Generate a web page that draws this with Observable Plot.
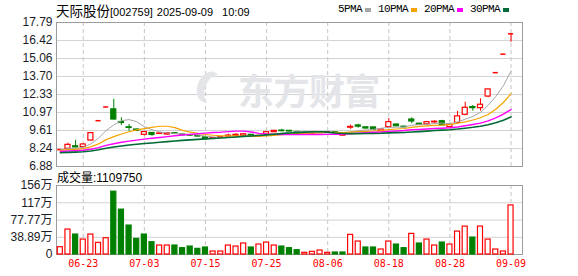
<!DOCTYPE html>
<html><head><meta charset="utf-8">
<script src="https://cdn.jsdelivr.net/npm/d3@7"></script>
<script src="https://cdn.jsdelivr.net/npm/@observablehq/plot@0.6"></script>
<style>
body{margin:0;background:#fff;}
#wrap{position:relative;width:578px;height:276px;overflow:hidden;background:#fff;font-family:"Liberation Sans",Arial,"Noto Sans CJK SC",sans-serif;color:#000;}
.abs{position:absolute;white-space:pre;line-height:1;}
#title{left:56px;top:3px;font-size:11px;line-height:14px;}
#title .cjk{font-family:"Noto Sans CJK SC";font-size:13.5px;}
#legend{left:338px;top:4px;font-family:"Liberation Mono",monospace;font-size:11px;letter-spacing:-0.6px;display:flex;align-items:center;}
#legend .sw{display:inline-block;width:6px;height:4px;margin:0 7px 0 3px;}
#vlabel{left:57px;top:172px;font-size:12px;}
#wm{left:238px;top:71px;font-family:"Noto Sans CJK SC";font-weight:700;font-size:36px;color:#e4e5e9;letter-spacing:-0.5px;}
#logo{left:205px;top:74px;width:22px;height:32px;border-radius:50%;box-shadow:-8px 0 0 0 #e4e5e9;transform:rotate(22deg);}
</style></head><body>
<div id="wrap">
  <div id="price" class="abs" style="left:0;top:0"></div>
  <div id="vol" class="abs" style="left:0;top:170px"></div>
  <div id="logo" class="abs"></div>
  <div id="wm" class="abs"></div>
  <div id="title" class="abs"></div>
  <div id="legend" class="abs"></div>
  <div id="vlabel" class="abs"></div>
</div>
<script>
// ---------- data ----------
const stockName = "天际股份";
const stockCode = "[002759]";
const stampDate = "2025-09-09";
const stampTime = "10:09";
const volumeTitle = "成交量:1109750";
const watermark = "东方财富";
const maNames = ["5PMA", "10PMA", "20PMA", "30PMA"];
const maPeriods = [5, 10, 20, 30];

const dates = ["06-18","06-19","06-20","06-23","06-24","06-25","06-26","06-27","06-30",
  "07-01","07-02","07-03","07-04","07-07","07-08","07-09","07-10","07-11","07-14","07-15",
  "07-16","07-17","07-18","07-21","07-22","07-23","07-24","07-25","07-28","07-29","07-30",
  "07-31","08-01","08-04","08-05","08-06","08-07","08-08","08-11","08-12","08-13","08-14",
  "08-15","08-18","08-19","08-20","08-21","08-22","08-25","08-26","08-27","08-28","08-29",
  "09-01","09-02","09-03","09-04","09-05","09-08","09-09"];

const opens  = [8.14,8.22,8.41,8.35,8.85,10.35,11.39,11.21,10.25,9.85,9.68,9.28,9.42,9.35,9.30,9.40,9.30,9.26,9.20,9.09,
  8.98,9.05,9.15,9.20,9.20,9.28,9.17,9.30,9.48,9.60,9.58,9.50,9.38,9.36,9.42,9.45,9.47,9.22,9.82,9.99,
  9.85,9.84,9.55,9.86,10.06,9.90,10.44,10.12,10.07,10.22,10.31,9.86,10.18,10.80,11.38,11.30,12.18,13.99,15.39,16.93];
const highs  = [8.18,8.65,8.86,8.60,9.41,10.35,11.39,11.97,10.57,10.06,9.72,9.52,9.45,9.42,9.43,9.44,9.33,9.28,9.24,9.10,
  9.05,9.12,9.33,9.36,9.34,9.30,9.22,9.50,9.62,9.70,9.58,9.52,9.44,9.50,9.48,9.50,9.49,9.30,10.02,10.08,
  9.86,9.88,9.70,10.52,10.10,9.93,10.57,10.15,10.30,10.35,10.38,10.08,11.05,11.75,11.50,12.01,12.72,13.99,15.39,16.93];
const lows   = [8.12,8.18,8.28,8.30,8.80,10.35,11.39,10.40,9.99,9.55,9.52,9.20,9.17,9.30,9.27,9.30,9.20,9.18,9.12,8.90,
  8.95,9.02,9.12,9.16,9.18,9.12,9.12,9.28,9.45,9.50,9.50,9.36,9.36,9.30,9.38,9.42,9.36,9.20,9.70,9.78,
  9.70,9.60,9.52,9.80,9.90,9.82,10.12,9.98,10.02,10.15,9.98,9.82,10.10,10.72,11.07,11.07,12.09,13.99,15.39,16.29];
const closes = [8.16,8.52,8.33,8.55,9.41,10.35,11.39,10.44,10.18,9.80,9.58,9.49,9.27,9.38,9.40,9.35,9.24,9.22,9.15,8.95,
  9.03,9.10,9.22,9.28,9.32,9.18,9.20,9.48,9.58,9.56,9.53,9.40,9.42,9.44,9.46,9.48,9.40,9.28,9.88,9.90,
  9.76,9.66,9.68,10.24,9.93,9.85,10.29,10.03,10.24,10.27,10.00,10.05,10.68,11.33,11.30,11.56,12.72,13.99,15.39,16.93];
const volumes = [165000,564000,451000,338000,451000,263000,368000,1420000,1014000,654000,353000,451000,278000,203000,203000,
  203000,143000,180000,128000,158000,68000,68000,203000,180000,248000,158000,225000,270000,203000,180000,
  143000,98000,38000,60000,90000,38000,45000,45000,444000,293000,158000,158000,113000,293000,225000,
  143000,466000,248000,338000,203000,270000,225000,518000,631000,383000,631000,338000,113000,68000,1109750];
// closes before the visible window (estimated), needed for the moving averages
const priorCloses = [7.62,7.66,7.70,7.68,7.72,7.75,7.70,7.74,7.78,7.80,7.84,7.88,7.85,7.90,7.94,7.96,7.92,7.98,8.02,8.05,
  8.00,8.04,8.08,8.06,8.10,8.14,8.18,8.15,8.12];

const priceTickLabels = ["17.79","16.42","15.06","13.70","12.33","10.97","9.61","8.24","6.88"];
const volTickLabels = ["156万","117万","77.77万","38.89万","0"];
const dateTickLabels = ["06-23","07-03","07-15","07-25","08-06","08-18","08-28","09-09"];

// ---------- styles ----------
const RED = "#ff0000", GREEN = "#008000";
const maColors = ["#a6a6a6", "#f5a300", "#ff00ff", "#006b36"];
const maWidths = [1, 1.2, 1.4, 1.6];
const GRID = "#d2d2d2", VGRID = "#c6c6c6", FRAME = "#9c9c9c";
const labelFont = "Liberation Sans, Arial, Noto Sans CJK SC, sans-serif";

// ---------- derived ----------
const N = dates.length;
const idx = d3.range(N);
const rows = idx.map(i => {
  const prev = i ? closes[i - 1] : priorCloses[priorCloses.length - 1];
  const o = opens[i], c = closes[i];
  return {i, o, h: highs[i], l: lows[i], c, v: volumes[i], prev,
    up: c > o || (c === o && c >= prev), volUp: c >= prev};
});
const allCloses = priorCloses.concat(closes);
const maData = maPeriods.map(n => idx.map(i => {
  const k = i + priorCloses.length;
  return {i, v: d3.mean(allCloses.slice(k - n + 1, k + 1))};
}));
const xTicks = dateTickLabels.map(t => dates.indexOf(t));
const priceVals = priceTickLabels.map(Number);
const [pMin, pMax] = d3.extent(priceVals);
const parseVol = s => s.endsWith("万") ? parseFloat(s) * 1e4 : +s;
const volVals = volTickLabels.map(parseVol);
const vMax = d3.max(volVals);
const hw = 0.33;
const xScale = {type: "linear", domain: [-0.5, N + 0.5], axis: null};

// ---------- price panel ----------
const bodies = rows.filter(d => Math.abs(d.c - d.o) >= 0.02);
const flats = rows.filter(d => Math.abs(d.c - d.o) < 0.02);
const price = Plot.plot({
  width: 578, height: 170, marginLeft: 56, marginRight: 56, marginTop: 22, marginBottom: 4,
  x: xScale,
  y: {domain: [pMin, pMax], axis: null},
  color: {type: "identity"},
  style: {background: "transparent", overflow: "visible"},
  marks: [
    Plot.ruleY(priceVals.filter(v => v > pMin && v < pMax), {stroke: GRID}),
    Plot.ruleX(xTicks, {stroke: VGRID, strokeDasharray: "4,3"}),
    Plot.frame({stroke: FRAME}),
    Plot.text(priceVals, {y: d => d, frameAnchor: "left", textAnchor: "end", dx: -4,
      text: (d, i) => priceTickLabels[i], fontFamily: labelFont, fontSize: 12, fill: "#1c1c28"}),
    Plot.ruleX(rows, {x: "i", y1: "l", y2: "h", stroke: d => d.up ? RED : GREEN, strokeWidth: 1}),
    Plot.rect(bodies, {x1: d => d.i - hw, x2: d => d.i + hw, y1: "o", y2: "c",
      fill: d => d.up ? "#ffffff" : GREEN, stroke: d => d.up ? RED : GREEN, strokeWidth: 1.2}),
    Plot.ruleY(flats, {y: "c", x1: d => d.i - hw, x2: d => d.i + hw,
      stroke: d => d.up ? RED : GREEN, strokeWidth: 1.5}),
    ...maData.map((m, k) => Plot.line(m, {x: "i", y: "v", stroke: maColors[k], strokeWidth: maWidths[k]}))
  ]
});
document.getElementById("price").appendChild(price);

// ---------- volume panel ----------
const vol = Plot.plot({
  width: 578, height: 106, marginLeft: 56, marginRight: 56, marginTop: 15, marginBottom: 22,
  x: xScale,
  y: {domain: [0, vMax], axis: null},
  color: {type: "identity"},
  style: {background: "transparent", overflow: "visible"},
  marks: [
    Plot.ruleY(volVals.filter(v => v > 0 && v < vMax), {stroke: GRID}),
    Plot.ruleX(xTicks, {stroke: VGRID, strokeDasharray: "4,3"}),
    Plot.frame({stroke: FRAME}),
    Plot.text(volVals, {y: d => d, frameAnchor: "left", textAnchor: "end", dx: -4,
      text: (d, i) => volTickLabels[i], fontFamily: labelFont, fontSize: 12, fill: "#1c1c28"}),
    Plot.rect(rows, {x1: d => d.i - hw, x2: d => d.i + hw, y1: 0, y2: "v",
      fill: d => d.volUp ? "#ffffff" : GREEN, stroke: d => d.volUp ? RED : GREEN, strokeWidth: 1.2}),
    Plot.text(xTicks, {x: d => d, frameAnchor: "bottom", dy: 12, text: d => dates[d],
      fontFamily: "DejaVu Sans Mono, monospace", fontSize: 10, fill: RED})
  ]
});
document.getElementById("vol").appendChild(vol);

// ---------- texts ----------
document.getElementById("title").innerHTML =
  `<span class="cjk">${stockName}</span><span>${stockCode}</span><span style="margin-left:4px">${stampDate}</span><span style="margin-left:9px">${stampTime}</span>`;
document.getElementById("legend").innerHTML = maNames.map((n, k) =>
  `<span>${n}</span><span class="sw" style="background:${maColors[k]}"></span>`).join("");
document.getElementById("vlabel").textContent = volumeTitle;
document.getElementById("wm").textContent = watermark;
</script>
</body></html>
